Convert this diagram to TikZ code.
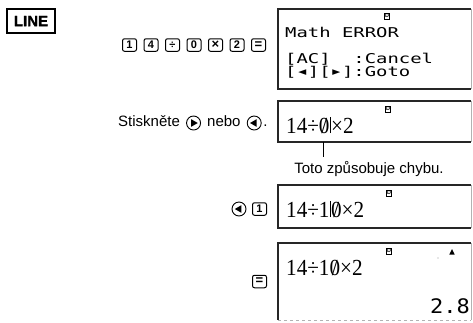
\documentclass[tikz,border=0pt]{standalone}
\usepackage{fontspec}
\setmainfont{Liberation Sans}
\newfontfamily\lcdm{DejaVu Sans Mono}
\newfontfamily\lcds{Liberation Serif}
\newfontfamily\djv{DejaVu Sans}
\usetikzlibrary{positioning}
\newcommand\szero{\ooalign{0\cr\hidewidth/\hidewidth\cr}}
\newcommand\lcdcur{\kern0.4pt\rule{0.9pt}{0.68em}\kern0.4pt}
\newcommand\mtri[1]{\makebox[0.602em][c]{\raisebox{0.12em}{\djv\scalebox{0.55}{#1}}}}
\begin{document}
\begin{tikzpicture}[x=1pt,y=-1pt,
  keybox/.style={draw, rounded corners=2pt, line width=1pt, minimum width=14pt, minimum height=12.5pt, inner sep=0pt, font=\fontsize{11}{11}\selectfont\bfseries},
  scrline/.style={line width=1.1pt, draw=black!85},
  scredge/.style={line width=0.6pt, draw=black!30},
  mono/.style={anchor=base west, inner sep=0pt, font=\fontsize{13.5}{13.5}\lcdm},
  lcd/.style={anchor=base west, inner sep=0pt, font=\fontsize{23}{23}\lcds},
  dind/.style={draw, line width=0.6pt, inner sep=0.3pt, font=\fontsize{5.5}{5.5}\selectfont\bfseries, minimum width=5pt, minimum height=6pt},
  note/.style={inner sep=0pt, font=\fontsize{15}{15}\selectfont, text height=10.5pt, text depth=3pt},
  rbtn/.style={circle, draw, line width=0.9pt, minimum size=14pt, inner sep=0pt},
  rbtnR/.style={rbtn, path picture={\fill (path picture bounding box.center) ++(-2.4,-3.8) -- ++(6.6,3.8) -- ++(-6.6,3.8) -- cycle;}},
  rbtnL/.style={rbtn, path picture={\fill (path picture bounding box.center) ++(2.4,-3.8) -- ++(-6.6,3.8) -- ++(6.6,3.8) -- cycle;}},
]
\useasboundingbox (0,0) rectangle (473,322);

% LINE mode label
\node[draw, line width=1.4pt, minimum width=48pt, minimum height=24pt, inner sep=0pt,
      font=\fontsize{15}{15}\selectfont\bfseries\addfontfeature{FakeBold=1.2}] (mode) at (31,21) {LINE};

% screen 1
\draw[scrline] (471,9) -- (278,9) -- (278,89) -- (471,89);
\draw[scredge] (471,9) -- (471,89);
\node[dind] (d1) at (387,16) {D};
\node[mono] (m1) at (285,37) {\scalebox{1.4}[1]{Math ERROR}};
\node[mono] (m2) at (285,63) {\scalebox{1.4}[1]{[AC]\ \ :Cancel}};
\node[mono] (m3) at (285,76) {\scalebox{1.4}[1]{[\mtri{◀}][\mtri{▶}]:Goto}};

% key row 1
\node[keybox] (k1) at (129.5,45) {1};
\node[keybox] (k2) at (151,45) {4};
\node[keybox] (k3) at (172.5,45) {÷};
\node[keybox] (k4) at (194,45) {0};
\node[keybox] (k5) at (215.5,45) {\fontsize{13}{13}\selectfont×};
\node[keybox] (k6) at (237,45) {2};
\node[keybox] (k7) at (258.5,45) {\fontsize{13}{13}\selectfont=};

% screen 2
\draw[scrline] (471,101) -- (278,101) -- (278,142) -- (471,142);
\draw[scredge] (471,101) -- (471,142);
\node[dind] (d2) at (388,109) {D};
\node[lcd] (e2) at (286,133) {\scalebox{0.92}[1]{14÷\szero\lcdcur×2}};

% instruction row
\node[note, anchor=west] (stis) at (118,123) {Stiskněte};
\node[rbtnR, right=6pt of stis] (bR) {};
\node[note, right=6pt of bR] (nebo) {nebo};
\node[rbtnL, right=6pt of nebo] (bL) {};
\node[note, right=1.5pt of bL] (dot) {.};

% error pointer
\coordinate (tk1) at (323,142);
\coordinate (tk2) at (323,157);
\draw[line width=0.8pt] (tk1) -- (tk2);
\node[note] (toto) at (369,170) {Toto způsobuje chybu.};

% screen 3
\draw[scrline] (471,185) -- (278,185) -- (278,228) -- (471,228);
\draw[scredge] (471,185) -- (471,228);
\node[dind] (d3) at (389,193) {D};
\node[lcd] (e3) at (286,217) {\scalebox{0.92}[1]{14÷1\lcdcur\szero×2}};
\node[rbtnL] (bL2) at (239,209) {};
\node[keybox] (k8) at (259.5,209) {1};

% screen 4
\draw[scrline] (471,243) -- (278,243) -- (278,320);
\draw[scredge] (471,243) -- (471,320);
\draw[scredge, dashed] (278,320) -- (471,320);
\node[dind] (d4) at (389,251) {D};
\fill (449.3,254.5) -- (454.7,254.5) -- (452,249) -- cycle;
\fill[black!40] (438,258) circle (0.6pt);
\node[lcd] (e4) at (286,275) {\scalebox{0.92}[1]{14÷1\szero×2}};
\node[anchor=base east, inner sep=0pt, font=\fontsize{20}{20}\lcdm] (res) at (470,313) {\scalebox{1.1}[1]{2.8}};
\node[keybox] (k9) at (259.5,281.5) {\fontsize{13}{13}\selectfont=};
\end{tikzpicture}
\end{document}
